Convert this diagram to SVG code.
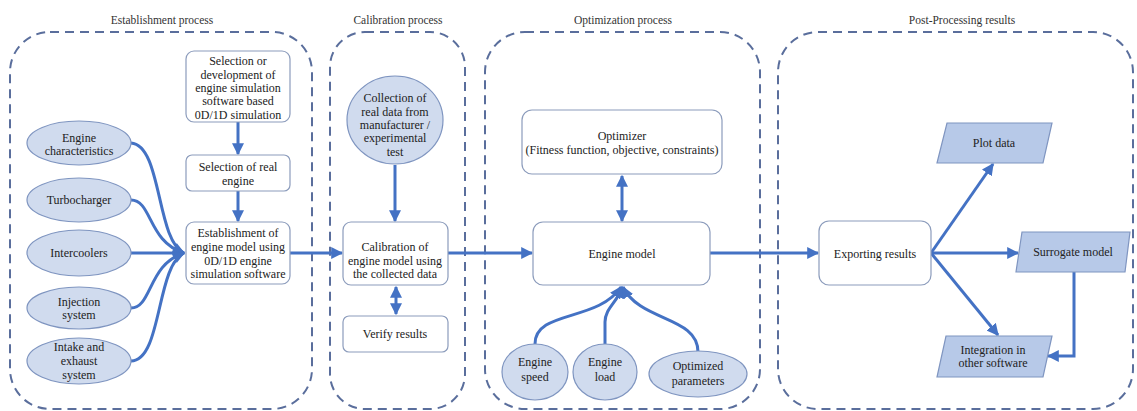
<svg xmlns="http://www.w3.org/2000/svg" width="1137" height="411" viewBox="0 0 1137 411" font-family="Liberation Serif, Times New Roman, DejaVu Serif, serif">
<style>
text{font-size:12px;fill:#222;text-anchor:middle}
.title{font-size:11.5px;fill:#333}
.cont{fill:none;stroke:#5a6e9c;stroke-width:2;stroke-dasharray:9,6}
.box{fill:#fff;stroke:#8c9cbc;stroke-width:1.2}
.ell{fill:#d0dbee;stroke:#7f95c0;stroke-width:1.2}
.par{fill:#b7c9e8;stroke:#7f95c0;stroke-width:1.2}
.c{fill:none;stroke:#4472c4;stroke-width:3}
</style>
<defs>
<marker id="ah" viewBox="0 0 10 10" refX="9" refY="5" markerWidth="12" markerHeight="12" markerUnits="userSpaceOnUse" orient="auto-start-reverse">
<path d="M0,0 L10,5 L0,10 Z" fill="#4472c4"/>
</marker>
</defs>
<rect width="1137" height="411" fill="#fff"/>

<g id="containers">
<rect class="cont" x="10" y="32" width="302" height="377" rx="40"/>
<rect class="cont" x="330" y="32" width="135" height="377" rx="35"/>
<rect class="cont" x="485" y="32" width="275" height="377" rx="40"/>
<rect class="cont" x="778" y="32" width="355" height="377" rx="40"/>
<text class="title" x="162" y="24">Establishment process</text>
<text class="title" x="398" y="24">Calibration process</text>
<text class="title" x="623" y="24">Optimization process</text>
<text class="title" x="962" y="24">Post-Processing results</text>
</g>

<g id="connectors">
<path class="c" d="M238,122 L238,154" marker-end="url(#ah)"/>
<path class="c" d="M238,191 L238,221" marker-end="url(#ah)"/>
<path class="c" d="M131,143 C162,145 156,240 184,253" marker-end="url(#ah)"/>
<path class="c" d="M131,200 C152,200 148,242 184,253" marker-end="url(#ah)"/>
<path class="c" d="M131,253 L184,253" marker-end="url(#ah)"/>
<path class="c" d="M131,308 C152,308 148,264 184,253" marker-end="url(#ah)"/>
<path class="c" d="M131,361 C162,361 156,266 184,253" marker-end="url(#ah)"/>
<path class="c" d="M290,253 L342,253" marker-end="url(#ah)"/>
<path class="c" d="M395,165 L395,221" marker-end="url(#ah)"/>
<path class="c" d="M396,287 L396,314" marker-start="url(#ah)" marker-end="url(#ah)"/>
<path class="c" d="M448,253 L532,253" marker-end="url(#ah)"/>
<path class="c" d="M622,176 L622,221" marker-start="url(#ah)" marker-end="url(#ah)"/>
<path class="c" d="M535,344 C535,310 598,322 621,287" marker-end="url(#ah)"/>
<path class="c" d="M605,344 L605,322 C605,308 618,302 622,287" marker-end="url(#ah)"/>
<path class="c" d="M698,352 C698,316 640,322 623,287" marker-end="url(#ah)"/>
<path class="c" d="M710,253 L818,253" marker-end="url(#ah)"/>
<path class="c" d="M931,253 L993,164" marker-end="url(#ah)"/>
<path class="c" d="M931,253 L1018,253" marker-end="url(#ah)"/>
<path class="c" d="M931,253 L998,335" marker-end="url(#ah)"/>
<path class="c" d="M1074,272 L1074,356 L1048,356" marker-end="url(#ah)"/>
</g>

<g id="n-software">
<rect class="box" x="186" y="51" width="104" height="71" rx="8"/>
<text x="238" y="65">Selection or</text>
<text x="238" y="79">development of</text>
<text x="238" y="92">engine simulation</text>
<text x="238" y="105">software based</text>
<text x="238" y="119">0D/1D simulation</text>
</g>
<g id="n-realengine">
<rect class="box" x="186" y="155" width="104" height="36" rx="6"/>
<text x="238" y="171">Selection of real</text>
<text x="238" y="185">engine</text>
</g>
<g id="n-establish">
<rect class="box" x="186" y="222" width="104" height="62" rx="8"/>
<text x="238" y="237">Establishment of</text>
<text x="238" y="251">engine model using</text>
<text x="238" y="265">0D/1D engine</text>
<text x="238" y="278">simulation software</text>
</g>
<g id="n-char">
<ellipse class="ell" cx="79" cy="143" rx="52" ry="22"/>
<text x="79" y="142">Engine</text>
<text x="79" y="155">characteristics</text>
</g>
<g id="n-turbo">
<ellipse class="ell" cx="79" cy="200" rx="52" ry="22"/>
<text x="79" y="204">Turbocharger</text>
</g>
<g id="n-inter">
<ellipse class="ell" cx="79" cy="253" rx="52" ry="23"/>
<text x="79" y="257">Intercoolers</text>
</g>
<g id="n-inject">
<ellipse class="ell" cx="79" cy="308" rx="52" ry="21"/>
<text x="79" y="306">Injection</text>
<text x="79" y="319">system</text>
</g>
<g id="n-intake">
<ellipse class="ell" cx="79" cy="361" rx="52" ry="23"/>
<text x="79" y="351">Intake and</text>
<text x="79" y="365">exhaust</text>
<text x="79" y="379">system</text>
</g>

<g id="n-collect">
<ellipse class="ell" cx="395" cy="120" rx="48" ry="44"/>
<text x="395" y="102">Collection of</text>
<text x="395" y="116">real data from</text>
<text x="395" y="129">manufacturer /</text>
<text x="395" y="142">experimental</text>
<text x="395" y="156">test</text>
</g>
<g id="n-calib">
<rect class="box" x="343" y="222" width="105" height="63" rx="8"/>
<text x="395" y="251">Calibration of</text>
<text x="395" y="265">engine model using</text>
<text x="395" y="278">the collected data</text>
</g>
<g id="n-verify">
<rect class="box" x="343" y="316" width="105" height="36" rx="6"/>
<text x="395" y="338">Verify results</text>
</g>

<g id="n-optimizer">
<rect class="box" x="522" y="110" width="200" height="64" rx="10"/>
<text x="622" y="140">Optimizer</text>
<text x="622" y="154">(Fitness function, objective, constraints)</text>
</g>
<g id="n-engmodel">
<rect class="box" x="533" y="222" width="177" height="63" rx="10"/>
<text x="622" y="258">Engine model</text>
</g>
<g id="n-speed">
<ellipse class="ell" cx="535" cy="372" rx="33" ry="28"/>
<text x="535" y="366">Engine</text>
<text x="535" y="381">speed</text>
</g>
<g id="n-load">
<ellipse class="ell" cx="605" cy="372" rx="32" ry="28"/>
<text x="605" y="366">Engine</text>
<text x="605" y="381">load</text>
</g>
<g id="n-optparams">
<ellipse class="ell" cx="698" cy="374" rx="49" ry="23"/>
<text x="698" y="370">Optimized</text>
<text x="698" y="385">parameters</text>
</g>

<g id="n-export">
<rect class="box" x="819" y="221" width="112" height="64" rx="10"/>
<text x="875" y="258">Exporting results</text>
</g>
<g id="n-plot">
<polygon class="par" points="947,123 1052,123 1043,163 937,163"/>
<text x="994" y="147">Plot data</text>
</g>
<g id="n-surrogate">
<polygon class="par" points="1022,232 1130,232 1125,272 1016,272"/>
<text x="1073" y="256">Surrogate model</text>
</g>
<g id="n-integration">
<polygon class="par" points="946,336 1052,336 1043,377 937,377"/>
<text x="993" y="354">Integration in</text>
<text x="993" y="367">other software</text>
</g>
</svg>
